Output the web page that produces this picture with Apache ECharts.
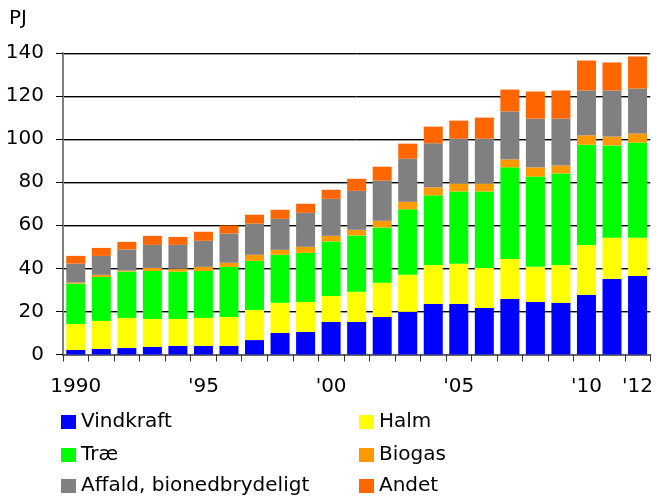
<!DOCTYPE html>
<html>
<head>
<meta charset="utf-8">
<script src="https://cdn.jsdelivr.net/npm/echarts@6/dist/echarts.min.js"></script>
<style>html,body{margin:0;padding:0;background:#fff}#c{width:656px;height:500px}</style>
</head>
<body>
<div id="c"></div>
<script>
var years = ['1990','1991','1992','1993','1994','1995','1996','1997','1998','1999','2000','2001','2002','2003','2004','2005','2006','2007','2008','2009','2010','2011','2012'];
var xTickLabels = ['1990','','','','',"'95",'','','','',"'00",'','','','',"'05",'','','','',"'10",'',"'12"];
var yTicks = [0,20,40,60,80,100,120,140];
var vindkraft = [2.1,2.6,3.0,3.5,4.0,4.0,4.0,6.7,10.0,10.5,15.1,15.1,17.4,19.8,23.5,23.5,21.6,25.8,24.4,24.0,27.7,35.1,36.5];
var halm      = [12.1,13.0,14.0,13.0,12.5,13.0,13.4,14.0,14.0,13.9,12.1,14.0,15.9,17.2,18.1,18.6,18.6,18.6,16.3,17.6,23.2,19.1,17.7];
var trae      = [18.7,20.4,21.5,22.3,22.0,21.8,23.3,22.8,22.3,22.8,25.3,26.2,25.7,30.4,32.3,33.6,35.5,42.5,41.9,42.5,46.5,42.9,44.2];
var biogas    = [0.5,1.0,0.5,1.4,1.3,1.9,1.9,2.8,2.3,2.8,2.6,2.6,3.1,3.5,3.7,3.7,3.7,3.7,4.3,3.7,4.4,4.1,4.2];
var affald    = [8.8,8.8,9.8,10.7,11.1,12.1,13.6,14.5,14.4,15.8,17.2,18.1,18.6,20.0,20.5,20.8,20.8,22.3,22.6,21.7,20.8,21.4,20.9];
var andet     = [3.6,3.7,3.5,4.2,3.7,4.2,3.7,4.1,4.2,4.2,4.2,5.6,6.5,7.0,7.7,8.4,9.8,10.1,12.6,13.1,13.9,13.0,14.9];
var seriesNames = ['Vindkraft','Halm','Træ','Biogas','Affald, bionedbrydeligt','Andet'];
var seriesColors = ['#0000FF','#FFFF00','#00FF00','#FF9900','#808080','#FF6600'];
var seriesData = [vindkraft,halm,trae,biogas,affald,andet];

var FONT = 'DejaVu Sans';
var chart = echarts.init(document.getElementById('c'), null, {renderer:'canvas'});
var series = seriesNames.map(function(n,i){
  return {name:n,type:'bar',stack:'s',data:seriesData[i],barWidth:19,
    itemStyle:{color:seriesColors[i]},emphasis:{disabled:true}};
});
var legendText = {fontFamily:FONT,fontSize:20,color:'#000'};
var legendPos = [[61,412],[359,412],[61,445],[359,445],[61,476],[359,476]];
var legends = seriesNames.map(function(n,i){
  return {data:[n],left:legendPos[i][0],top:legendPos[i][1],padding:0,itemWidth:15,itemHeight:14,icon:'rect',textStyle:legendText,selectedMode:false};
});
chart.setOption({
  animation:false,
  textStyle:{fontFamily:FONT},
  title:{text:'PJ',left:9,top:9,padding:0,textStyle:{fontFamily:FONT,fontSize:20,fontWeight:'normal',color:'#000'}},
  grid:{left:63,right:5,top:53,bottom:145.5,containLabel:false},
  legend:legends,
  xAxis:{type:'category',data:years,boundaryGap:true,
    axisLine:{lineStyle:{color:'#666',width:2}},
    axisTick:{show:true,interval:0,length:7,lineStyle:{color:'#333'}},
    axisLabel:{interval:0,margin:22,fontFamily:FONT,fontSize:20,color:'#000',
      formatter:function(v,i){return xTickLabels[i];}}
  },
  yAxis:{type:'value',min:yTicks[0],max:yTicks[yTicks.length-1],interval:20,
    axisLine:{show:true,lineStyle:{color:'#808080',width:2}},
    axisTick:{show:true,inside:false,length:7,lineStyle:{color:'#000'}},
    axisLabel:{margin:19,fontFamily:FONT,fontSize:20,color:'#000'},
    splitLine:{show:true,lineStyle:{color:'#000',width:1,shadowColor:'#999',shadowOffsetY:1}}
  },
  series:series
});
</script>
</body>
</html>
